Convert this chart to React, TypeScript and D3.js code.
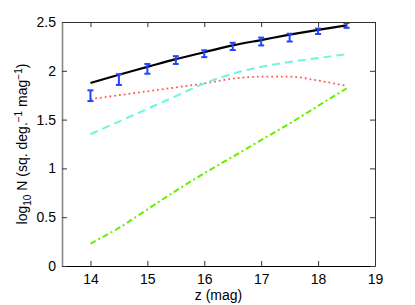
import * as d3 from "d3";
import React, { useRef, useEffect } from "react";

// magnitude bins
const zMag = [14, 14.5, 15, 15.5, 16, 16.5, 17, 17.5, 18, 18.5];
// observed counts with error bars
const obsLogN = [1.745, 1.91, 2.02, 2.11, 2.175, 2.25, 2.30, 2.34, 2.405, 2.465];
const obsErr = [0.055, 0.055, 0.05, 0.04, 0.035, 0.037, 0.04, 0.04, 0.028, 0.025];
// model curves
const totalModel = [1.875, 1.96, 2.04, 2.12, 2.19, 2.26, 2.315, 2.37, 2.42, 2.465];
const cyanModel = [1.35, 1.48, 1.61, 1.74, 1.87, 1.97, 2.04, 2.09, 2.13, 2.17];
const redModel = [1.71, 1.75, 1.79, 1.83, 1.87, 1.92, 1.94, 1.94, 1.90, 1.845];
const greenModel = [0.23, 0.39, 0.58, 0.77, 0.95, 1.12, 1.29, 1.46, 1.64, 1.82];

const xTicks = [14, 15, 16, 17, 18, 19];
const yTicks = [0, 0.5, 1, 1.5, 2, 2.5];

const font = "Liberation Sans, Arial, Helvetica, sans-serif";

function App() {
    const width = 415;
    const height = 305;
    const margin = { left: 62, right: 40, top: 22, bottom: 39 };

    const xScale = d3.scaleLinear()
        .domain([13.5, 19])
        .range([margin.left, width - margin.right]);

    const yScale = d3.scaleLinear()
        .domain([0, 2.5])
        .range([height - margin.bottom, margin.top]);

    const lineBuilder = d3.line<number>()
        .x((d, i) => xScale(zMag[i]))
        .y((d) => yScale(d))
        .curve(d3.curveMonotoneX);

    const axesRef = useRef<SVGGElement>(null);

    useEffect(() => {
        const g = d3.select(axesRef.current);
        g.selectAll("*").remove();

        const x0 = margin.left, x1 = width - margin.right;
        const y0 = height - margin.bottom, y1 = margin.top;

        const bottom = g.append("g")
            .attr("transform", `translate(0, ${y0})`)
            .call(d3.axisBottom(xScale).tickValues(xTicks).tickSizeInner(-5).tickSizeOuter(0).tickPadding(8).tickFormat(d3.format("d")));
        const top = g.append("g")
            .attr("transform", `translate(0, ${y1})`)
            .call(d3.axisTop(xScale).tickValues(xTicks).tickSizeInner(-5).tickSizeOuter(0).tickFormat(() => ""));
        const left = g.append("g")
            .attr("transform", `translate(${x0}, 0)`)
            .call(d3.axisLeft(yScale).tickValues(yTicks).tickSizeInner(-5).tickSizeOuter(0).tickPadding(6).tickFormat(d3.format("")));
        const right = g.append("g")
            .attr("transform", `translate(${x1}, 0)`)
            .call(d3.axisRight(yScale).tickValues(yTicks).tickSizeInner(-5).tickSizeOuter(0).tickFormat(() => ""));

        [bottom, top, left, right].forEach((a) => {
            a.selectAll("text")
                .attr("font-family", font)
                .attr("font-size", 14)
                .attr("fill", "#000");
            a.selectAll(".tick line").attr("stroke", "#333");
        });
        bottom.select(".domain").attr("stroke", "#000").attr("stroke-width", 1.2);
        top.select(".domain").attr("stroke", "#333");
        right.select(".domain").attr("stroke", "#333");
        left.select(".domain").attr("stroke", "#888").attr("stroke-width", 1.6);
    }, []);

    const errColor = "#2244ff";
    const cap = 3;

    return (
        <svg width={width} height={height} style={{ position: "absolute", left: 0, top: 0, background: "#fff" }}>
            <rect width={width} height={height} fill="#fff" />
            <path d={lineBuilder(greenModel) || undefined} fill="none" stroke="#66ee00" strokeWidth={2} strokeDasharray="6,3,2,3" />
            <path d={lineBuilder(redModel) || undefined} fill="none" stroke="#ff5a5a" strokeWidth={1.8} strokeDasharray="1.8,3" />
            <path d={lineBuilder(cyanModel) || undefined} fill="none" stroke="#70f5dc" strokeWidth={2} strokeDasharray="8,5" />
            <path d={lineBuilder(totalModel) || undefined} fill="none" stroke="#000" strokeWidth={2.2} />
            {zMag.map((z, i) => {
                const cx = xScale(z);
                const yt = yScale(obsLogN[i] + obsErr[i]);
                const yb = yScale(obsLogN[i] - obsErr[i]);
                return (
                    <g key={i} stroke={errColor} strokeWidth={2}>
                        <line x1={cx} x2={cx} y1={yt} y2={yb} />
                        <line x1={cx - cap} x2={cx + cap} y1={yt} y2={yt} />
                        <line x1={cx - cap} x2={cx + cap} y1={yb} y2={yb} />
                    </g>
                );
            })}
            <g ref={axesRef} />
            <text
                x={xScale(16.25)}
                y={300}
                textAnchor="middle"
                fontFamily={font}
                fontSize={14}
            >
                z (mag)
            </text>
            <text
                transform={`translate(27, ${(margin.top + height - margin.bottom) / 2}) rotate(-90)`}
                textAnchor="middle"
                fontFamily={font}
                fontSize={14}
            >
                log<tspan fontSize={10} dy={4}>10</tspan>
                <tspan dy={-4}> N (sq. deg.</tspan>
                <tspan fontSize={10} dy={-5}>−1</tspan>
                <tspan dy={5}> mag</tspan>
                <tspan fontSize={10} dy={-5}>−1</tspan>
                <tspan dy={5}>)</tspan>
            </text>
        </svg>
    );
}

export default App;
